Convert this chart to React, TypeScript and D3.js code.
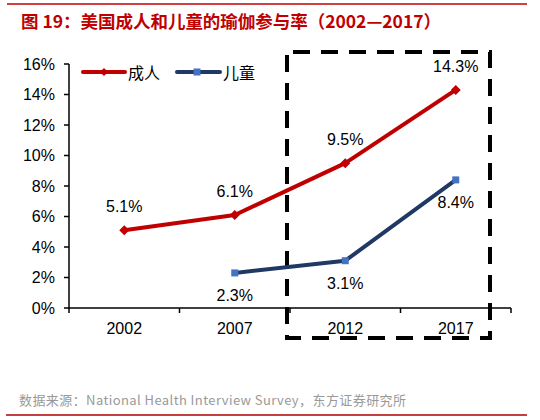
import React from "react";
import * as d3 from "d3";

const years = ["2002", "2007", "2012", "2017"];
const adult: (number | null)[] = [5.1, 6.1, 9.5, 14.3];
const child: (number | null)[] = [null, 2.3, 3.1, 8.4];
const yTicks = [0, 2, 4, 6, 8, 10, 12, 14, 16];
const seriesNames = ["成人", "儿童"];
const title = "图 19：美国成人和儿童的瑜伽参与率（2002—2017）";
const source = "数据来源：National Health Interview Survey，东方证券研究所";

const RED = "#C00000";
const NAVY = "#203864";
const BLUE = "#4472C4";
const LATIN = "'Liberation Sans', Arial, sans-serif";
const CJK = "'Noto Sans CJK SC', 'Liberation Sans', sans-serif";

export default function App() {
  const W = 540, H = 420;
  const x = d3.scaleBand<string>().domain(years).range([69, 511]);
  const y = d3.scaleLinear().domain([0, 16]).range([308, 64]);
  const cx = (d: string) => (x(d) as number) + x.bandwidth() / 2;

  const line = d3
    .line<{ yr: string; v: number | null }>()
    .defined((d) => d.v != null)
    .x((d) => cx(d.yr))
    .y((d) => y(d.v as number));

  const adultPts = years.map((yr, i) => ({ yr, v: adult[i] }));
  const childPts = years.map((yr, i) => ({ yr, v: child[i] }));

  const diamond = (px: number, py: number, r: number) =>
    `M${px},${py - r}L${px + r},${py}L${px},${py + r}L${px - r},${py}Z`;

  return (
    <svg
      width={W}
      height={H}
      style={{ position: "absolute", left: 0, top: 0, background: "#fff" }}
    >
      <rect x={0} y={0} width={W} height={H} fill="#fff" />
      <line x1={7} x2={527} y1={4} y2={4} stroke={RED} strokeWidth={1.5} />
      <text
        x={21}
        y={27.5}
        fill={RED}
        fontFamily={CJK}
        fontWeight="bold"
        fontSize={17.5}
        textLength={420}
        lengthAdjust="spacing"
      >
        {title}
      </text>

      {/* y axis */}
      <line x1={69} x2={69} y1={y(16)} y2={y(0)} stroke="#000" strokeWidth={1.5} />
      {yTicks.map((t) => (
        <g key={t}>
          <line x1={64} x2={69} y1={y(t)} y2={y(t)} stroke="#000" strokeWidth={1.5} />
          <text
            x={55}
            y={y(t) + 5.5}
            textAnchor="end"
            fontFamily={LATIN}
            fontSize={16}
            fill="#000"
          >
            {t}%
          </text>
        </g>
      ))}

      {/* x axis */}
      <line x1={69} x2={511} y1={y(0)} y2={y(0)} stroke="#000" strokeWidth={1.5} />
      {[...years.map((d) => x(d) as number), 511].map((t, i) => (
        <line key={i} x1={t} x2={t} y1={y(0)} y2={y(0) + 5} stroke="#000" strokeWidth={1.5} />
      ))}
      {years.map((d) => (
        <text key={d} x={cx(d)} y={334} textAnchor="middle" fontFamily={LATIN} fontSize={16} fill="#000">
          {d}
        </text>
      ))}

      {/* dashed highlight box */}
      <rect
        x={287}
        y={52}
        width={203}
        height={286}
        fill="none"
        stroke="#000"
        strokeWidth={4}
        strokeDasharray="17 11"
        strokeDashoffset={-6}
      />

      {/* lines */}
      <path d={line(adultPts) || ""} fill="none" stroke={RED} strokeWidth={4} strokeLinejoin="round" />
      <path d={line(childPts) || ""} fill="none" stroke={NAVY} strokeWidth={4} strokeLinejoin="round" />

      {adultPts.map((p) =>
        p.v == null ? null : (
          <g key={"a" + p.yr}>
            <path d={diamond(cx(p.yr), y(p.v), 5)} fill={RED} />
            <text x={cx(p.yr)} y={y(p.v) - 18} textAnchor="middle" fontFamily={LATIN} fontSize={16} fill="#000">
              {p.v.toFixed(1)}%
            </text>
          </g>
        )
      )}
      {childPts.map((p) =>
        p.v == null ? null : (
          <g key={"c" + p.yr}>
            <rect x={cx(p.yr) - 3.5} y={y(p.v) - 3.5} width={7} height={7} fill={BLUE} />
            <text x={cx(p.yr)} y={y(p.v) + 28} textAnchor="middle" fontFamily={LATIN} fontSize={16} fill="#000">
              {p.v.toFixed(1)}%
            </text>
          </g>
        )
      )}

      {/* legend */}
      <line x1={83} x2={125} y1={72} y2={72} stroke={RED} strokeWidth={4} strokeLinecap="round" />
      <path d={diamond(104, 72, 4)} fill={RED} />
      <text x={128} y={78.5} fontFamily={CJK} fontSize={16} fill="#000">
        {seriesNames[0]}
      </text>
      <line x1={177} x2={220} y1={72} y2={72} stroke={NAVY} strokeWidth={4} strokeLinecap="round" />
      <rect x={193.5} y={68.5} width={7} height={7} fill={BLUE} />
      <text x={223} y={78.5} fontFamily={CJK} fontSize={16} fill="#000">
        {seriesNames[1]}
      </text>

      {/* source */}
      <text x={19} y={405} fontFamily={CJK} fontSize={13} fill="#999" textLength={387} lengthAdjust="spacing">
        {source}
      </text>
      <line x1={6} x2={527} y1={415} y2={415} stroke="#B00000" strokeWidth={1.5} />
    </svg>
  );
}
